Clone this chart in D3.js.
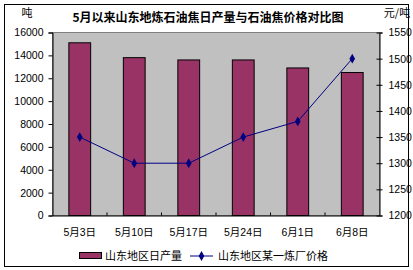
<!DOCTYPE html>
<html><head><meta charset="utf-8">
<script src="https://cdn.jsdelivr.net/npm/d3@7"></script>
<style>body{margin:0;background:#fff}svg{display:block}</style>
</head><body>
<script>
const categories = ["5月3日","5月10日","5月17日","5月24日","6月1日","6月8日"];
const production = [15100, 13800, 13600, 13600, 12900, 12500];
const prices = [1350, 1300, 1300, 1350, 1380, 1500];
const leftTicks = [0,2000,4000,6000,8000,10000,12000,14000,16000];
const rightTicks = [1200,1250,1300,1350,1400,1450,1500,1550];
const title = "5月以来山东地炼石油焦日产量与石油焦价格对比图";
const seriesNames = ["山东地区日产量","山东地区某一炼厂价格"];

const W=413,H=270;
const svg=d3.select("body").append("svg").attr("width",W).attr("height",H);
const font="'Liberation Sans','Noto Sans CJK SC',sans-serif";
svg.append("rect").attr("x",4.5).attr("y",4.5).attr("width",404).attr("height",262).attr("fill","#fff").attr("stroke","#000");

const L=52.5,R=379.5,T=32.5,B=215.5;
const x=d3.scaleBand().domain(categories).range([L,R]).paddingInner(0.6).paddingOuter(0.3);
const xb=d3.scaleBand().domain(categories).range([L,R]);
const yL=d3.scaleLinear().domain([0,16000]).range([B,T]);
const yR=d3.scaleLinear().domain([1200,1550]).range([B,T]);

svg.append("rect").attr("x",L).attr("y",T).attr("width",R-L).attr("height",B-T).attr("fill","#c0c0c0").attr("stroke","#808080");

const bw=xb.bandwidth()/2.5;
svg.selectAll(".bar").data(production).join("rect")
 .attr("x",(d,i)=>xb(categories[i])+xb.bandwidth()/2-bw/2)
 .attr("y",d=>yL(d)).attr("width",bw).attr("height",d=>B-yL(d))
 .attr("fill","#993366").attr("stroke","#000").attr("stroke-width",1);

// axes
const gl=svg.append("g").attr("transform",`translate(${L},0)`).call(d3.axisLeft(yL).tickValues(leftTicks).tickSize(4).tickPadding(5).tickFormat(d3.format("d")));
const gr=svg.append("g").attr("transform",`translate(${R},0)`).call(d3.axisRight(yR).tickValues(rightTicks).tickSize(3).tickPadding(6).tickFormat(d3.format("d")));
gr.selectAll(".tick line").attr("x1",-3);
const gb=svg.append("g").attr("transform",`translate(0,${B})`).call(d3.axisBottom(xb).tickSize(0).tickPadding(13));
[gl,gr,gb].forEach(g=>{g.selectAll("path").attr("stroke","#000");g.selectAll("line").attr("stroke","#000");g.selectAll("text").attr("font-family",font).attr("font-size","10.5px").attr("fill","#000");});
gb.select(".domain").attr("stroke","#000");
// category separators (inside ticks)
svg.selectAll(".ctick").data(categories.slice(1)).join("line")
 .attr("x1",d=>xb(d)).attr("x2",d=>xb(d)).attr("y1",B).attr("y2",B-3).attr("stroke","#000");

// line
const line=d3.line().x((d,i)=>xb(categories[i])+xb.bandwidth()/2).y(d=>yR(d));
svg.append("path").datum(prices).attr("d",line).attr("fill","none").attr("stroke","#000080").attr("stroke-width",1);
const diamond=d3.symbol().type(d3.symbolDiamond).size(28);
svg.selectAll(".pt").data(prices).join("path").attr("d",diamond)
 .attr("transform",(d,i)=>`translate(${xb(categories[i])+xb.bandwidth()/2},${yR(d)})`).attr("fill","#000080");

// title and units
svg.append("text").attr("x",208).attr("y",22).attr("text-anchor","middle").attr("font-family","'Noto Sans CJK SC',sans-serif").attr("font-weight","bold").attr("font-size","12px").text(title);
svg.append("text").attr("x",27).attr("y",17).attr("text-anchor","middle").attr("font-family","'Noto Sans CJK SC',sans-serif").attr("font-size","11px").text("吨");
svg.append("text").attr("x",397).attr("y",17).attr("text-anchor","middle").attr("font-family","'Noto Sans CJK SC',sans-serif").attr("font-size","11px").text("元/吨");

// legend
const ly=256;
svg.append("rect").attr("x",79.5).attr("y",ly-3.5).attr("width",22).attr("height",6).attr("fill","#993366").attr("stroke","#000");
svg.append("text").attr("x",105).attr("y",ly+4).attr("font-family","'Noto Sans CJK SC',sans-serif").attr("font-size","11px").text(seriesNames[0]);
svg.append("line").attr("x1",190).attr("x2",213).attr("y1",ly).attr("y2",ly).attr("stroke","#000080");
svg.append("path").attr("d",diamond).attr("transform",`translate(201.5,${ly})`).attr("fill","#000080");
svg.append("text").attr("x",218).attr("y",ly+4).attr("font-family","'Noto Sans CJK SC',sans-serif").attr("font-size","11px").text(seriesNames[1]);
</script>
</body></html>
